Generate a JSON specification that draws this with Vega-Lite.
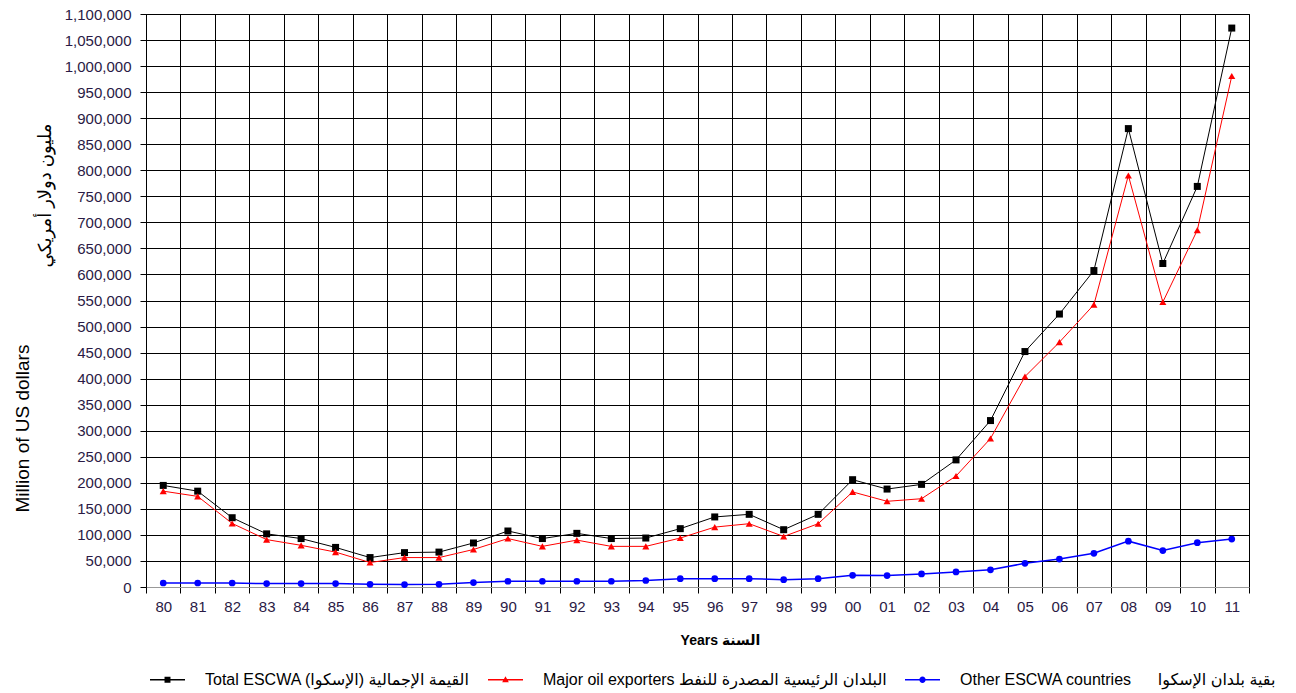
{
  "$schema": "https://vega.github.io/schema/vega-lite/v6.json",
  "autosize": {"type": "none"},
  "width": 1103,
  "height": 573,
  "padding": {"left": 146, "top": 14, "right": 47, "bottom": 106},
  "background": "white",
  "config": {
    "font": "Liberation Sans, DejaVu Sans, sans-serif",
    "view": {"stroke": "#000", "strokeWidth": 1},
    "axis": {"labelFont": "Liberation Sans, DejaVu Sans", "titleFont": "Liberation Sans, DejaVu Sans"},
    "legend": {"labelFont": "Liberation Sans, DejaVu Sans"}
  },
  "data": {
    "values": [
      {"year": "80", "series": "Total", "value": 195000},
      {"year": "81", "series": "Total", "value": 184000},
      {"year": "82", "series": "Total", "value": 133000},
      {"year": "83", "series": "Total", "value": 102000},
      {"year": "84", "series": "Total", "value": 93000},
      {"year": "85", "series": "Total", "value": 76000},
      {"year": "86", "series": "Total", "value": 56500},
      {"year": "87", "series": "Total", "value": 66000},
      {"year": "88", "series": "Total", "value": 67000},
      {"year": "89", "series": "Total", "value": 84500},
      {"year": "90", "series": "Total", "value": 107500},
      {"year": "91", "series": "Total", "value": 93000},
      {"year": "92", "series": "Total", "value": 103000},
      {"year": "93", "series": "Total", "value": 93000},
      {"year": "94", "series": "Total", "value": 94000},
      {"year": "95", "series": "Total", "value": 112000},
      {"year": "96", "series": "Total", "value": 134500},
      {"year": "97", "series": "Total", "value": 139500},
      {"year": "98", "series": "Total", "value": 110000},
      {"year": "99", "series": "Total", "value": 139500},
      {"year": "00", "series": "Total", "value": 206000},
      {"year": "01", "series": "Total", "value": 188000},
      {"year": "02", "series": "Total", "value": 197000},
      {"year": "03", "series": "Total", "value": 244000},
      {"year": "04", "series": "Total", "value": 319500},
      {"year": "05", "series": "Total", "value": 452000},
      {"year": "06", "series": "Total", "value": 524000},
      {"year": "07", "series": "Total", "value": 607500},
      {"year": "08", "series": "Total", "value": 880000},
      {"year": "09", "series": "Total", "value": 621000},
      {"year": "10", "series": "Total", "value": 769000},
      {"year": "11", "series": "Total", "value": 1073000},
      {"year": "80", "series": "Major", "value": 184000},
      {"year": "81", "series": "Major", "value": 174000},
      {"year": "82", "series": "Major", "value": 122000},
      {"year": "83", "series": "Major", "value": 91000},
      {"year": "84", "series": "Major", "value": 80000},
      {"year": "85", "series": "Major", "value": 67000},
      {"year": "86", "series": "Major", "value": 47000},
      {"year": "87", "series": "Major", "value": 56500},
      {"year": "88", "series": "Major", "value": 56500},
      {"year": "89", "series": "Major", "value": 72000},
      {"year": "90", "series": "Major", "value": 93000},
      {"year": "91", "series": "Major", "value": 78000},
      {"year": "92", "series": "Major", "value": 90000},
      {"year": "93", "series": "Major", "value": 78000},
      {"year": "94", "series": "Major", "value": 78000},
      {"year": "95", "series": "Major", "value": 94000},
      {"year": "96", "series": "Major", "value": 115000},
      {"year": "97", "series": "Major", "value": 121500},
      {"year": "98", "series": "Major", "value": 97000},
      {"year": "99", "series": "Major", "value": 121500},
      {"year": "00", "series": "Major", "value": 182500},
      {"year": "01", "series": "Major", "value": 164500},
      {"year": "02", "series": "Major", "value": 169500},
      {"year": "03", "series": "Major", "value": 213000},
      {"year": "04", "series": "Major", "value": 285000},
      {"year": "05", "series": "Major", "value": 404000},
      {"year": "06", "series": "Major", "value": 470000},
      {"year": "07", "series": "Major", "value": 542000},
      {"year": "08", "series": "Major", "value": 790000},
      {"year": "09", "series": "Major", "value": 547000},
      {"year": "10", "series": "Major", "value": 685000},
      {"year": "11", "series": "Major", "value": 981000},
      {"year": "80", "series": "Other", "value": 7700},
      {"year": "81", "series": "Other", "value": 7700},
      {"year": "82", "series": "Other", "value": 7700},
      {"year": "83", "series": "Other", "value": 6500},
      {"year": "84", "series": "Other", "value": 6500},
      {"year": "85", "series": "Other", "value": 6500},
      {"year": "86", "series": "Other", "value": 5200},
      {"year": "87", "series": "Other", "value": 4600},
      {"year": "88", "series": "Other", "value": 5200},
      {"year": "89", "series": "Other", "value": 8400},
      {"year": "90", "series": "Other", "value": 11000},
      {"year": "91", "series": "Other", "value": 11000},
      {"year": "92", "series": "Other", "value": 11000},
      {"year": "93", "series": "Other", "value": 11000},
      {"year": "94", "series": "Other", "value": 12500},
      {"year": "95", "series": "Other", "value": 16000},
      {"year": "96", "series": "Other", "value": 16000},
      {"year": "97", "series": "Other", "value": 16000},
      {"year": "98", "series": "Other", "value": 14000},
      {"year": "99", "series": "Other", "value": 16000},
      {"year": "00", "series": "Other", "value": 22500},
      {"year": "01", "series": "Other", "value": 22000},
      {"year": "02", "series": "Other", "value": 25000},
      {"year": "03", "series": "Other", "value": 29000},
      {"year": "04", "series": "Other", "value": 33000},
      {"year": "05", "series": "Other", "value": 45500},
      {"year": "06", "series": "Other", "value": 53600},
      {"year": "07", "series": "Other", "value": 64700},
      {"year": "08", "series": "Other", "value": 88000},
      {"year": "09", "series": "Other", "value": 70000},
      {"year": "10", "series": "Other", "value": 85000},
      {"year": "11", "series": "Other", "value": 92000}
    ]
  },
  "encoding": {
    "x": {
      "field": "year",
      "type": "ordinal",
      "sort": null,
      "scale": {"type": "band", "paddingInner": 0, "paddingOuter": 0},
      "axis": {
        "labelAngle": 0,
        "labelFontSize": 15,
        "labelColor": "#2a1a45",
        "labelPadding": 6,
        "tickBand": "extent",
        "tickSize": 6,
        "tickColor": "#000",
        "grid": true,
        "gridColor": "#000",
        "gridOpacity": 1,
        "gridWidth": 1,
        "domainColor": "#999999",
        "domainWidth": 1,
        "title": "Years السنة",
        "titleFontSize": 14,
        "titleFontWeight": "bold",
        "titleColor": "#000",
        "titleX": 574,
        "titleY": 53,
        "titleBaseline": "middle",
        "titleAlign": "center"
      }
    }
  },
  "layer": [
    {
      "transform": [{"filter": "datum.series === 'Total'"}],
      "mark": {"type": "line", "color": "#000", "strokeWidth": 1, "point": {"shape": "square", "filled": true, "size": 49, "color": "#000", "opacity": 1}},
      "encoding": {
        "y": {
          "field": "value",
          "type": "quantitative",
          "scale": {"domain": [0, 1100000], "nice": false, "zero": true},
          "axis": {
            "values": [0, 50000, 100000, 150000, 200000, 250000, 300000, 350000, 400000, 450000, 500000, 550000, 600000, 650000, 700000, 750000, 800000, 850000, 900000, 950000, 1000000, 1050000, 1100000],
            "labelExpr": "format(datum.value, ',.0f')",
            "labelFontSize": 15,
            "labelColor": "#2a1a45",
            "labelPadding": 9,
            "tickSize": 6,
            "tickColor": "#000",
            "domainColor": "#000",
            "grid": true,
            "gridColor": "#000",
            "gridOpacity": 1,
            "gridWidth": 1,
            "orient": "left",
            "title": "Million of US dollars",
            "titleFontSize": 19,
            "titleFontWeight": "normal",
            "titleColor": "#000",
            "titleX": -124,
            "titleY": 414,
            "titleAngle": -90,
            "titleAlign": "center",
            "titleBaseline": "middle"
          }
        }
      }
    },
    {
      "transform": [{"filter": "datum.series === 'Major'"}],
      "mark": {"type": "line", "color": "#ff0000", "strokeWidth": 1, "point": {"shape": "triangle-up", "filled": true, "size": 50, "color": "#ff0000", "opacity": 1}},
      "encoding": {
        "y": {"field": "value", "type": "quantitative", "axis": null}
      }
    },
    {
      "transform": [{"filter": "datum.series === 'Other'"}],
      "mark": {"type": "line", "color": "#0000ff", "strokeWidth": 1.5, "point": {"shape": "circle", "filled": true, "size": 45, "color": "#0000ff", "opacity": 1}},
      "encoding": {
        "y": {"field": "value", "type": "quantitative", "axis": null}
      }
    },
    {
      "transform": [{"filter": "datum.value < 0"}],
      "mark": {"type": "point", "filled": true, "opacity": 1},
      "encoding": {
        "y": {
          "field": "value",
          "type": "quantitative",
          "axis": {
            "orient": "left",
            "labels": false,
            "ticks": false,
            "domain": false,
            "grid": false,
            "title": "مليون دولار أمريكي",
            "titleFontSize": 18,
            "titleFontWeight": "normal",
            "titleColor": "#000",
            "titleX": -101,
            "titleY": 181,
            "titleAngle": -90,
            "titleAlign": "center",
            "titleBaseline": "middle"
          }
        },
        "color": {
          "field": "series",
          "type": "nominal",
          "scale": {"domain": ["Total", "Major", "Other"], "range": ["#000000", "#ff0000", "#0000ff"]},
          "legend": {
            "title": null,
            "orient": "none",
            "direction": "horizontal",
            "legendX": 4,
            "legendY": 648,
            "padding": 0,
            "symbolSize": 1225,
            "symbolStrokeWidth": 0,
            "labelFontSize": 16,
            "labelColor": "#000",
            "labelOffset": 20,
            "columnPadding": 18,
            "labelLimit": 500,
            "labelExpr": "datum.value === 'Total' ? 'Total ESCWA القيمة الإجمالية (الإسكوا)' : datum.value === 'Major' ? 'Major oil exporters البلدان الرئيسية المصدرة للنفط' : 'Other ESCWA countries\u00a0\u00a0\u00a0\u00a0\u00a0\u00a0بقية بلدان الإسكوا'"
          }
        },
        "shape": {
          "field": "series",
          "type": "nominal",
          "scale": {
            "domain": ["Total", "Major", "Other"],
            "range": [
              "M-1,-0.04H1V0.04H-1ZM-0.17,-0.17H0.17V0.17H-0.17Z",
              "M-1,-0.04H1V0.04H-1ZM0,-0.2L0.19,0.14L-0.19,0.14Z",
              "M-1,-0.04H1V0.04H-1ZM-0.18,0A0.18,0.18 0 1,1 0.18,0A0.18,0.18 0 1,1 -0.18,0Z"
            ]
          },
          "legend": {
            "title": null,
            "orient": "none",
            "direction": "horizontal",
            "legendX": 4,
            "legendY": 648,
            "padding": 0,
            "symbolSize": 1225,
            "symbolStrokeWidth": 0,
            "labelFontSize": 16,
            "labelColor": "#000",
            "labelOffset": 20,
            "columnPadding": 18,
            "labelLimit": 500,
            "labelExpr": "datum.value === 'Total' ? 'Total ESCWA القيمة الإجمالية (الإسكوا)' : datum.value === 'Major' ? 'Major oil exporters البلدان الرئيسية المصدرة للنفط' : 'Other ESCWA countries\u00a0\u00a0\u00a0\u00a0\u00a0\u00a0بقية بلدان الإسكوا'"
          }
        }
      }
    }
  ],
  "resolve": {"axis": {"y": "independent"}}
}
